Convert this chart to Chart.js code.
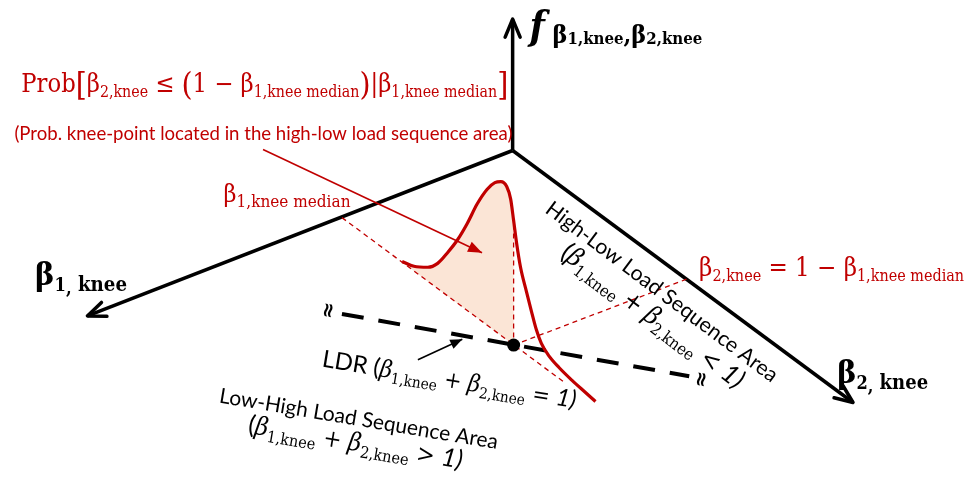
<!DOCTYPE html>
<html><head><meta charset="utf-8">
<script src="https://cdn.jsdelivr.net/npm/chart.js@4.4.1/dist/chart.umd.min.js"></script>
<style>html,body{margin:0;padding:0;background:#fff;overflow:hidden}</style>
</head><body><canvas id="c" width="971" height="481"></canvas>
<script>
// ---------- diagram data (diagram units) ----------
const fAxis = [[513,148],[513,13]];
const beta1Axis = [[513,148],[82,318]];
const beta2Axis = [[513,148],[858,407]];
const densityCurve = [[401,262],[413,267],[427,268],[437,264],[447,253],[457,240],[467,223],[477,203],[487,188],[495,181],[501,180],[507,185],[511,198],[514,220],[517,243],[521,268],[527,293],[532,313],[537,332],[542,346],[549,358],[560,371],[573,384],[586,396],[597,406]];
const ldrLine = [[340,316],[692,380]];
const breakMarks = [[325,312],[703,383]];
const medianPoint = [[514,348]];
const medianDiagonal = [[340,217],[565,386]];
const medianVertical = [[514,224],[514,348]];
const beta2Projection = [[514,348],[690,280]];
const probArrow = [[260,147],[482,253]];
const ldrArrow = [[417,363],[462,342]];

// ---------- text content ----------
const probLabel = [['Prob','m'],['[','b'],['β','m'],['2,knee','s'],[' ≤ ','m'],['(','b'],['1 − β','m'],['1,knee median','s'],[')','b'],['|β','m'],['1,knee median','s'],[']','b']];
const probNote = [['(Prob. knee-point located in the high-low load sequence area)','n']];
const fLabel = [['f','fi'],[' β','fb'],['1,knee','fs'],[',β','fb'],['2,knee','fs']];
const beta1Label = [['β','B'],['1','Bs'],[',','Bc'],[' knee','Bk']];
const beta2Label = [['β','B'],['2','Bs'],[',','Bc'],[' knee','Bk']];
const medianLabel = [['β','m2'],['1,knee median','s2']];
const beta2EqLabel = [['β','m'],['2,knee','s'],[' = 1 − β','m'],['1,knee median','s']];
const hlTitle = [['High-Low Load Sequence Area','t']];
const hlCond = [['(','t'],['β','i'],['1,knee','ss'],[' + ','o'],['β','i'],['2,knee','ss'],[' < ','o'],['1)','ti']];
const ldrLabel = [['LDR (','t'],['β','i'],['1,knee','ss'],[' + ','o'],['β','i'],['2,knee','ss'],[' = ','o'],['1)','ti']];
const lhTitle = [['Low-High Load Sequence Area','t']];
const lhCond = [['(','t'],['β','i'],['1,knee','ss'],[' + ','o'],['β','i'],['2,knee','ss'],[' > ','o'],['1)','ti']];

// ---------- styles ----------
const RED = '#C00000';
const SERIF = '"DejaVu Serif Condensed", "DejaVu Serif", "Liberation Serif", serif';
const SANS = 'Lato, "Open Sans", sans-serif';
const ROLES = {
  m:{ff:SERIF,sz:24}, s:{ff:SERIF,sz:15,dy:5}, b:{ff:SERIF,sz:30,dy:3},
  m2:{ff:SERIF,sz:22}, s2:{ff:SERIF,sz:15,dy:4},
  n:{ff:SANS,sz:18},
  fi:{ff:SERIF,sz:38,st:'italic',w:'bold'}, fb:{ff:SERIF,sz:24,w:'bold',dy:4}, fs:{ff:SERIF,sz:16,w:'bold',dy:5},
  B:{ff:SERIF,sz:32,w:'bold'}, Bs:{ff:SERIF,sz:18,w:'bold',dy:6}, Bc:{ff:SERIF,sz:18,w:'bold',dy:9}, Bk:{ff:SERIF,sz:20,w:'bold',dy:6},
  t:{ff:SANS,sz:22}, ti:{ff:SANS,sz:22,st:'italic'}, i:{ff:SERIF,sz:22,st:'italic'}, ss:{ff:SERIF,sz:14,dy:5}, o:{ff:SERIF,sz:21}
};
const LABELS = [
  {segs:probLabel, at:[15,88], width:487, color:RED},
  {segs:probNote, at:[8,137], width:498, color:RED},
  {segs:fLabel, at:[530,33], width:173, color:'#000'},
  {segs:beta1Label, at:[29,286], width:92, color:'#000'},
  {segs:beta2Label, at:[842,387], width:91, color:'#000'},
  {segs:medianLabel, at:[220,201], width:127, color:RED},
  {segs:beta2EqLabel, at:[702,277], width:265, color:RED},
  {segs:hlTitle, at:[660,299], width:285, angle:37, align:'center', color:'#000'},
  {segs:hlCond, at:[650,325], width:222, angle:37, align:'center', color:'#000'},
  {segs:ldrLabel, at:[319,370], width:257, angle:9.3, color:'#000'},
  {segs:lhTitle, at:[215,407], width:282, angle:9.5, color:'#000'},
  {segs:lhCond, at:[244,438], width:217, angle:9.5, color:'#000'}
];

function fontOf(r,k){ return [r.st,r.w,(r.sz*k).toFixed(2)+'px',r.ff].filter(Boolean).join(' '); }
function richWidth(ctx,segs,k){ let w=0; for(const [t,role] of segs){ ctx.font=fontOf(ROLES[role],k); w+=ctx.measureText(t).width; } return w; }
function drawRich(ctx,segs,x,y,o){
  const k = o.width ? o.width/richWidth(ctx,segs,1) : 1;
  const W = richWidth(ctx,segs,k);
  ctx.save(); ctx.translate(x,y); ctx.rotate((o.angle||0)*Math.PI/180);
  let cx = o.align==='center' ? -W/2 : 0;
  ctx.fillStyle=o.color; ctx.textAlign='left'; ctx.textBaseline='alphabetic';
  for(const [t,role] of segs){ const r=ROLES[role]; ctx.font=fontOf(r,k); ctx.fillText(t,cx,(r.dy||0)*k); cx+=ctx.measureText(t).width; }
  ctx.restore();
}

const toPts = a => a.map(([x,y])=>({x,y}));
function lineDs(label,pts,color,width,extra){ return Object.assign({label,data:toPts(pts),showLine:true,borderColor:color,backgroundColor:color,borderWidth:width,pointRadius:0,fill:false,tension:0},extra||{}); }

const datasets = [
  Object.assign(lineDs('median',medianPoint,'#000',0),{showLine:false,pointRadius:6.5,pointBackgroundColor:'#000',pointBorderWidth:0,order:0}),
  lineDs('ldrArrow',ldrArrow,'#000',1.6,{arrow:'solid',head:[12,5],order:1}),
  lineDs('probArrow',probArrow,RED,1.6,{arrow:'solid',head:[14,5.5],order:1}),
  lineDs('density',densityCurve,RED,3.2,{cubicInterpolationMode:'monotone',order:2,fillShade:true}),
  lineDs('ldr',ldrLine,'#000',4,{borderDash:[22,15],order:3}),
  lineDs('diag',medianDiagonal,RED,1.3,{borderDash:[5,4],order:4}),
  lineDs('vert',medianVertical,RED,1.3,{borderDash:[5,4],order:4}),
  lineDs('proj',beta2Projection,RED,1.3,{borderDash:[5,4],order:4}),
  lineDs('fAxis',fAxis,'#000',3.5,{arrow:'open',head:[18,7.5],order:5}),
  lineDs('b1Axis',beta1Axis,'#000',3.5,{arrow:'open',head:[18,7.5],order:5}),
  lineDs('b2Axis',beta2Axis,'#000',3.5,{arrow:'open',head:[18,7.5],order:5})
];

const diagramPlugin = {
  id:'diagram',
  beforeDatasetsDraw(chart){
    const ctx=chart.ctx, xs=chart.scales.x, ys=chart.scales.y;
    const P = p => [xs.getPixelForValue(p[0]), ys.getPixelForValue(p[1])];
    const idx = chart.data.datasets.findIndex(d=>d.fillShade);
    const meta = chart.getDatasetMeta(idx);
    const pts = meta.data;
    const d0=P(medianDiagonal[0]), d1=P(medianDiagonal[1]);
    const v0=P(medianVertical[1]);
    const x0=pts[0].x;
    const yd = d0[1]+(d1[1]-d0[1])*(x0-d0[0])/(d1[0]-d0[0]);
    ctx.save();
    ctx.beginPath(); ctx.moveTo(x0,0); ctx.lineTo(v0[0],0); ctx.lineTo(v0[0],v0[1]); ctx.lineTo(x0,yd); ctx.closePath(); ctx.clip();
    ctx.beginPath();
    const line = meta.dataset;
    if (line && typeof line.path==='function'){
      if (line.updateControlPoints) line.updateControlPoints(chart.chartArea,'x');
      line.path(ctx);
    } else { ctx.moveTo(pts[0].x,pts[0].y); pts.forEach(p=>ctx.lineTo(p.x,p.y)); }
    const last=pts[pts.length-1];
    ctx.lineTo(last.x,chart.chartArea.bottom); ctx.lineTo(x0,chart.chartArea.bottom); ctx.closePath();
    ctx.fillStyle='#FBE5D6'; ctx.fill();
    ctx.restore();
  },
  afterDatasetsDraw(chart){
    const ctx=chart.ctx, xs=chart.scales.x, ys=chart.scales.y;
    chart.data.datasets.forEach((ds,i)=>{
      if(!ds.arrow) return;
      const pts=chart.getDatasetMeta(i).data; const a=pts[pts.length-2], b=pts[pts.length-1];
      const ang=Math.atan2(b.y-a.y,b.x-a.x); const [L,W]=ds.head;
      const ux=Math.cos(ang), uy=Math.sin(ang);
      const l1=[b.x-L*ux+W*uy, b.y-L*uy-W*ux], l2=[b.x-L*ux-W*uy, b.y-L*uy+W*ux];
      ctx.save(); ctx.strokeStyle=ds.borderColor; ctx.fillStyle=ds.borderColor; ctx.lineWidth=ds.borderWidth; ctx.lineCap='round'; ctx.lineJoin='round';
      ctx.beginPath(); ctx.moveTo(l1[0],l1[1]); ctx.lineTo(b.x,b.y); ctx.lineTo(l2[0],l2[1]);
      if(ds.arrow==='solid'){ ctx.closePath(); ctx.fill(); } else ctx.stroke();
      ctx.restore();
    });
    // break marks at the LDR line ends
    ctx.save(); ctx.fillStyle='#000'; ctx.font='bold 20px "DejaVu Sans", sans-serif'; ctx.textAlign='center'; ctx.textBaseline='middle';
    breakMarks.forEach(p=>{ ctx.save(); ctx.translate(xs.getPixelForValue(p[0]),ys.getPixelForValue(p[1])); ctx.rotate(100*Math.PI/180); ctx.fillText('≈',0,0); ctx.restore(); });
    ctx.restore();
    LABELS.forEach(l=>drawRich(ctx,l.segs,xs.getPixelForValue(l.at[0]),ys.getPixelForValue(l.at[1]),l));
  }
};

new Chart(document.getElementById('c'),{
  type:'scatter',
  data:{datasets},
  options:{
    responsive:false, animation:false, devicePixelRatio:1, events:[],
    layout:{padding:0},
    plugins:{legend:{display:false},tooltip:{enabled:false}},
    scales:{
      x:{type:'linear',min:0,max:971,display:false},
      y:{type:'linear',min:0,max:481,reverse:true,display:false}
    }
  },
  plugins:[diagramPlugin]
});
</script></body></html>
